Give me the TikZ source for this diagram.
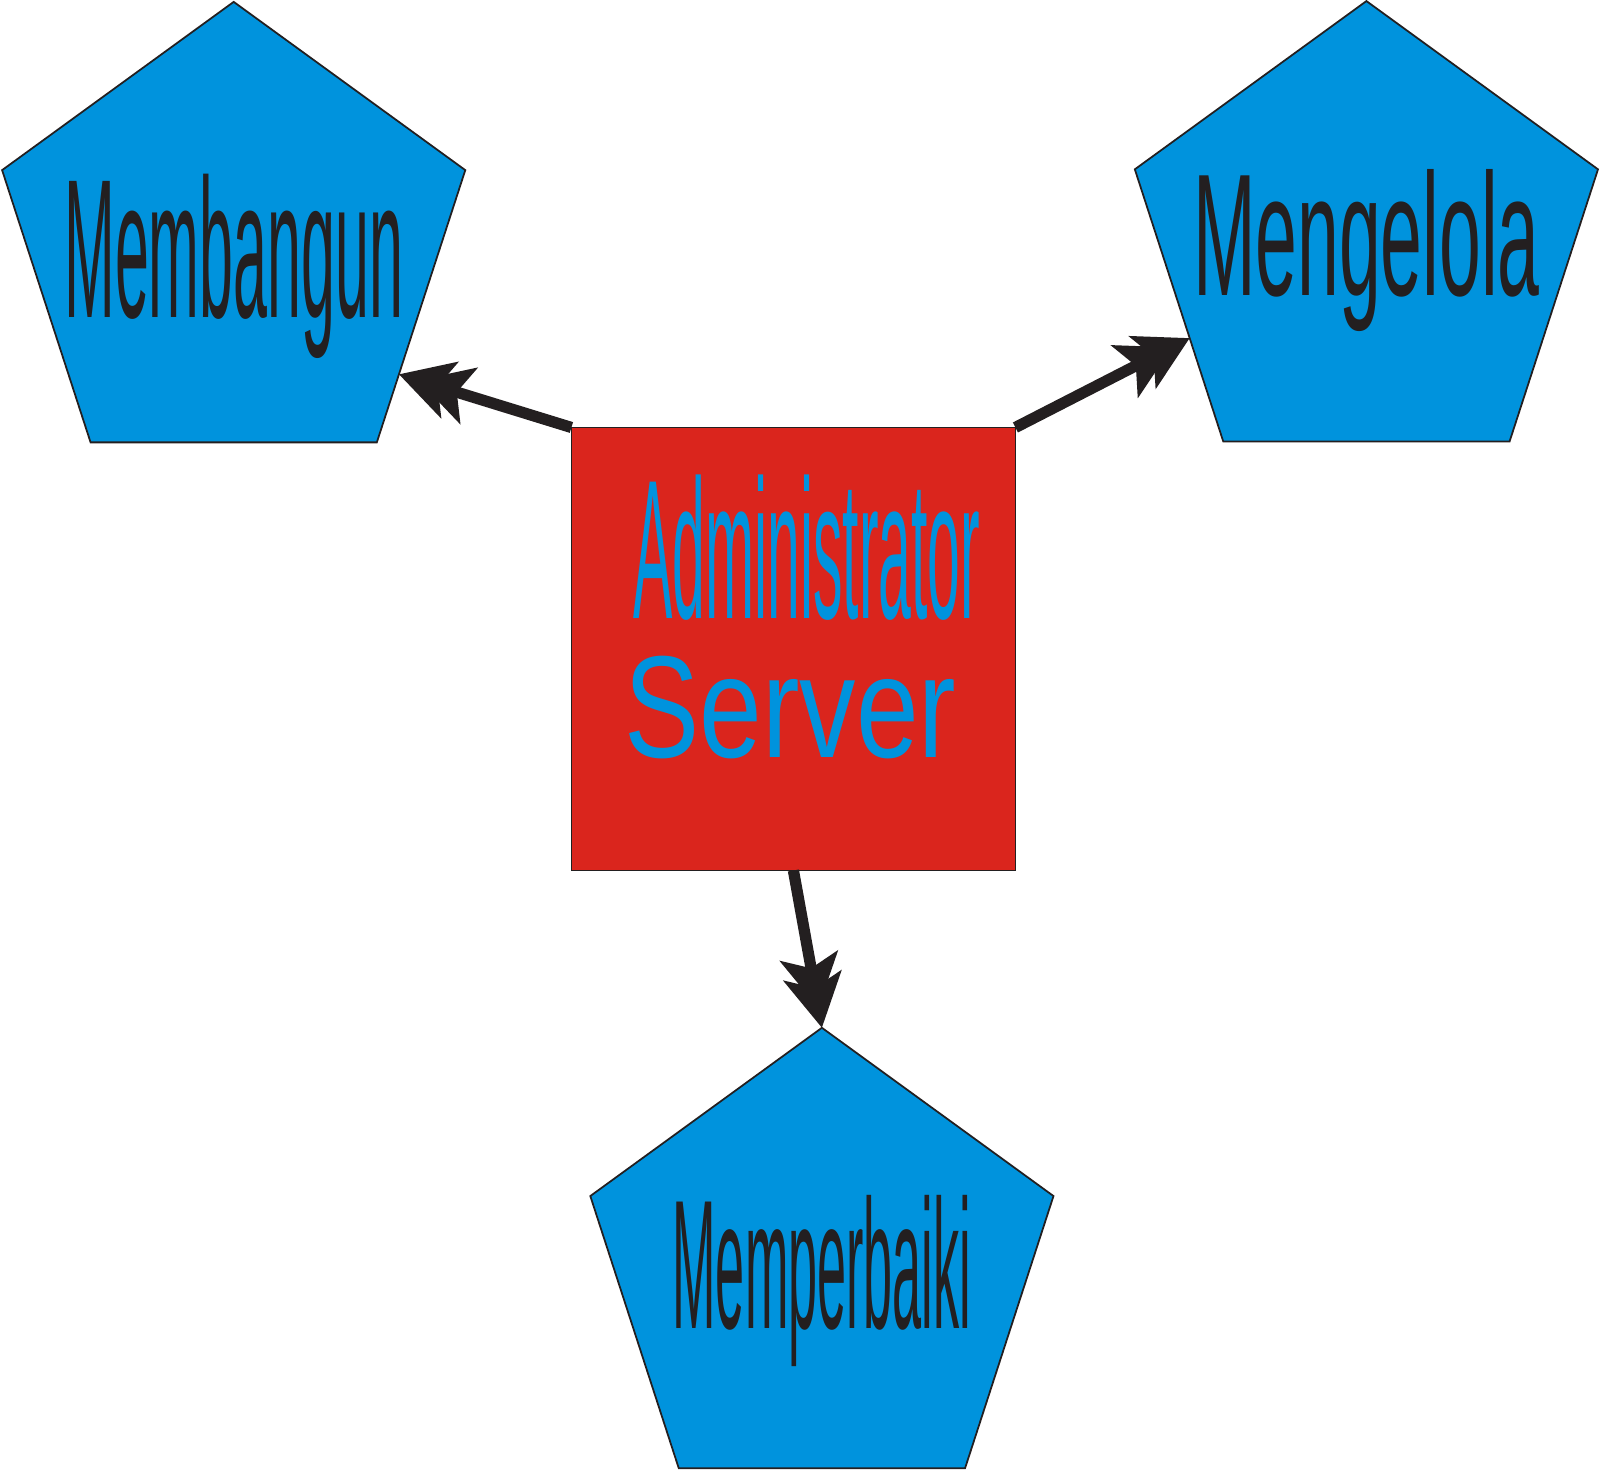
\documentclass[tikz,border=0pt]{standalone}
\usepackage{fontspec}
\setmainfont{Liberation Sans}
\usepackage{graphicx}
\usepackage{tikz}
\usetikzlibrary{arrows.meta, shapes.geometric, calc}
\definecolor{pentblue}{RGB}{0,147,221}
\definecolor{adminred}{RGB}{218,37,29}
\definecolor{inkblack}{RGB}{35,31,32}

\begin{document}
\begin{tikzpicture}[
    penta/.style={regular polygon, regular polygon sides=5, minimum size=4.87cm, inner sep=0pt, outer sep=0pt, draw=inkblack, line width=0.5pt, fill=pentblue},
    box/.style={rectangle, draw=inkblack, line width=0.5pt, fill=adminred, minimum width=4.44cm, minimum height=4.43cm, inner sep=0pt, outer sep=0pt},
    word/.style={inner sep=0pt, anchor=base, text=inkblack, text depth=0pt},
    arrow/.style={-{Stealth[length=15pt,width=16.5pt,inset=3.5pt,sep=-9.3pt]Stealth[length=15pt,width=16.5pt,inset=3.5pt]}, line width=3.2pt, draw=inkblack}
]
\useasboundingbox (0,0) rectangle (16,14.7);

\node[penta] (pl) at (2.337,12.246) {};
\node[penta] (pr) at (13.664,12.254) {};
\node[penta] (pb) at (8.219,1.987) {};
\node[box] (sq) at (7.934,8.21) {};

% labels
\node[word, font=\fontsize{56.3pt}{60pt}\selectfont] (pl-txt) at ($(pl.center)+(0,-0.719)$) {\scalebox{0.308}[1]{Membangun}};
\node[word, font=\fontsize{49.5pt}{54pt}\selectfont] (pr-txt) at ($(pr.center)+(0,-0.513)$) {\scalebox{0.432}[1]{Mengelola}};
\node[word, font=\fontsize{52.3pt}{56pt}\selectfont] (pb-txt) at ($(pb.center)+(0,-0.573)$) {\scalebox{0.284}[1]{Memperbaiki}};
\node[word, anchor=base west, text=pentblue, text height=41pt, font=\fontsize{56.4pt}{60pt}\selectfont] (adm) at ($(sq.north west)+(0.613,-1.914)$) {\scalebox{0.297}[1]{Administrator}};
\node[word, anchor=base west, text=pentblue, text height=30pt, font=\fontsize{41.3pt}{45pt}\selectfont] (srv) at ($(sq.north west)+(0.526,-3.297)$) {\scalebox{0.776}[1]{Server}};

\draw[arrow] (sq.north west) -- ($(pl.corner 5)!0.75!(pl.corner 4)$);
\draw[arrow] (sq.north east) -- ($(pr.corner 2)!0.62!(pr.corner 3)$);
\draw[arrow] (sq.south) -- (pb.corner 1);
\end{tikzpicture}
\end{document}
